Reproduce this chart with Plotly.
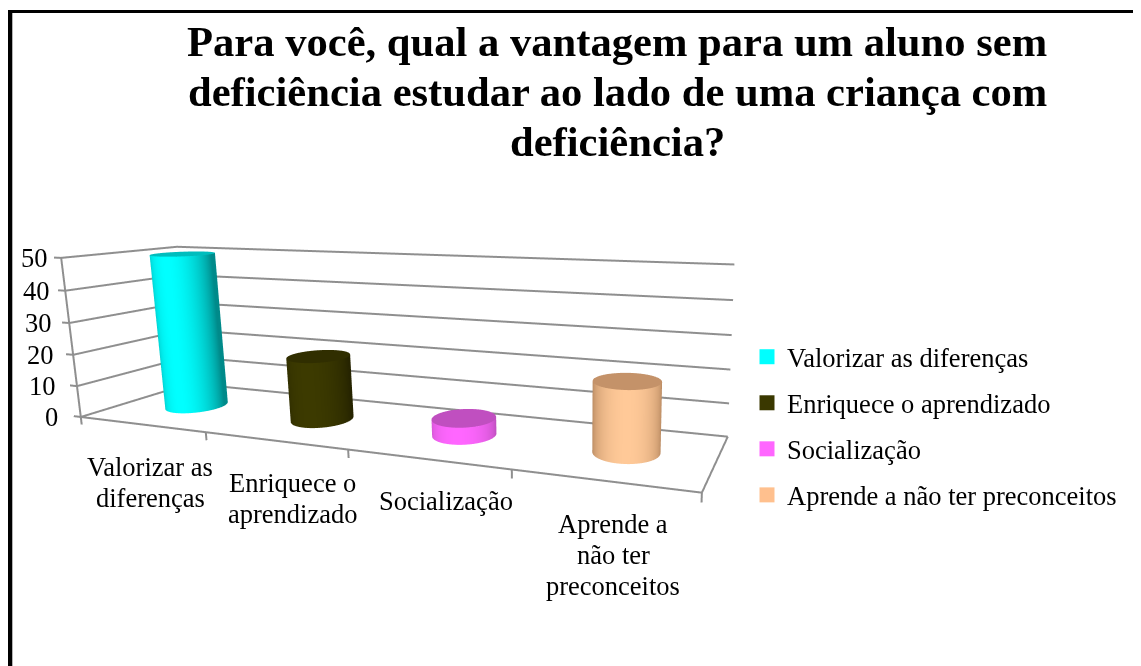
import numpy as np
import plotly.graph_objects as go

title_lines = ["Para você, qual a vantagem para um aluno sem",
               "deficiência estudar ao lado de uma criança com",
               "deficiência?"]
categories = ["Valorizar as diferenças", "Enriquece o aprendizado", "Socialização", "Aprende a não ter preconceitos"]
tick_labels = [["Valorizar as", "diferenças"], ["Enriquece o", "aprendizado"], ["Socialização"],
               ["Aprende a", "não ter", "preconceitos"]]
values = [50, 20, 5, 20]
bright = ["#00FFFF", "#3C3A00", "#FF66FF", "#FFC998"]
dark = ["#008A8A", "#262400", "#C050C0", "#AE8058"]
top = ["#00BDBD", "#302E00", "#C04FC0", "#C49269"]
legend_cols = ["#00FFFF", "#3A3800", "#FF66FF", "#FFC08E"]
z_ticks = [0, 10, 20, 30, 40, 50]

DEPTH = 0.9
RADIUS = 0.19
FONT = "Liberation Serif"
GRID = "#8f8f8f"
W, H = 1133, 658          # the page adds an 8px body margin


def px(x):
    return (x - 8) / W


def py(y):
    return 1 - (y - 8) / H


fig = go.Figure()
flat = dict(ambient=1, diffuse=0, specular=0, roughness=1, fresnel=0)


def seg(xs, ys, zs):
    fig.add_trace(go.Scatter3d(x=xs, y=ys, z=zs, mode="lines", line=dict(color=GRID, width=4),
                               showlegend=False, hoverinfo="skip"))


for z in z_ticks:
    seg([-0.06, 0, 0, 4], [0, 0, DEPTH, DEPTH], [z, z, z, z])
seg([0, 0], [0, 0], [0, 50])
seg([0, 4, 4], [0, 0, DEPTH], [0, 0, 0])
for x in range(5):
    seg([x, x], [0, 0], [0, -2.5])

th = np.linspace(0, 2 * np.pi, 90)
for i, (cat, v) in enumerate(zip(categories, values)):
    cx, cy = i + 0.5, DEPTH / 2
    zz = np.array([0, v], dtype=float)
    T, Z = np.meshgrid(th, zz)
    X = cx + RADIUS * np.cos(T)
    Y = cy + RADIUS * np.sin(T)
    S = np.clip(np.cos(T - np.radians(-75)), 0, 1)
    fig.add_trace(go.Surface(x=X, y=Y, z=Z, surfacecolor=S, cmin=0, cmax=1,
                             colorscale=[[0, dark[i]], [1, bright[i]]],
                             showscale=False, showlegend=False, hoverinfo="skip", lighting=flat))
    T2, R2 = np.meshgrid(th, np.array([0, 1.0]))
    Xt = cx + RADIUS * R2 * np.cos(T2)
    Yt = cy + RADIUS * R2 * np.sin(T2)
    fig.add_trace(go.Surface(x=Xt, y=Yt, z=np.full_like(Xt, v), surfacecolor=np.zeros_like(Xt), cmin=0, cmax=1,
                             colorscale=[[0, top[i]], [1, top[i]]], showscale=False, showlegend=False,
                             hoverinfo="skip", lighting=flat))
    fig.add_trace(go.Scatter(x=[None], y=[None], mode="markers", name=cat,
                             marker=dict(symbol="square", size=15, color=legend_cols[i]),
                             legendgroup=cat))

hidden = dict(showbackground=False, showspikes=False, showline=False, zeroline=False, showgrid=False,
              showticklabels=False, ticks="", title="")
font = dict(family=FONT, size=26.5, color="black")
annos = []
for z in z_ticks:
    annos.append(dict(x=0, y=0, z=z, text=str(z), showarrow=False, xanchor="right", xshift=-21 + 0.2 * z, font=font))
label_dx = [9, 18, 19, 10]
label_dy = [43, 42, 42, 43]
for i, lines in enumerate(tick_labels):
    for j, t in enumerate(lines):
        annos.append(dict(x=i + 0.5, y=0, z=0, text=t, showarrow=False, font=font,
                          xshift=label_dx[i], yshift=-(label_dy[i] + 31 * j)))

fig.update_layout(
    width=W, height=H, margin=dict(l=0, r=0, t=0, b=0),
    paper_bgcolor="white", plot_bgcolor="white",
    xaxis=dict(visible=False), yaxis=dict(visible=False),
    legend=dict(x=px(747), y=py(333), xanchor="left", yanchor="top", font=font, tracegroupgap=8.6,
                bgcolor="rgba(0,0,0,0)"),
    scene=dict(
        domain=dict(x=[0, 1], y=[0, 1]),
        aspectmode="manual", aspectratio=dict(x=2.41, y=0.552, z=0.64),
        camera=dict(projection=dict(type="perspective"), up=dict(x=0, y=0, z=1),
                    center=dict(x=0.620, y=0.2905, z=0.0267), eye=dict(x=1.530, y=-2.4275, z=0.5837)),
        xaxis=dict(range=[-0.06, 4.02], **hidden),
        yaxis=dict(range=[-0.01, DEPTH + 0.01], **hidden),
        zaxis=dict(range=[-2.5, 50.5], **hidden),
        annotations=annos,
    ),
    annotations=[dict(xref="paper", yref="paper", x=px(617), y=py(yy), text=t, showarrow=False,
                      xanchor="center", yanchor="middle",
                      font=dict(family=FONT, size=42.6, color="black", weight="bold"))
                 for t, yy in zip(title_lines, [42, 92, 141])],
    shapes=[
        dict(type="line", xref="paper", yref="paper", x0=px(10), x1=px(10), y0=0, y1=py(10),
             line=dict(color="black", width=4.6)),
        dict(type="line", xref="paper", yref="paper", x0=0, x1=1, y0=py(11.5), y1=py(11.5),
             line=dict(color="black", width=3)),
    ],
)
fig.write_html("out.html", config={"displayModeBar": False})
